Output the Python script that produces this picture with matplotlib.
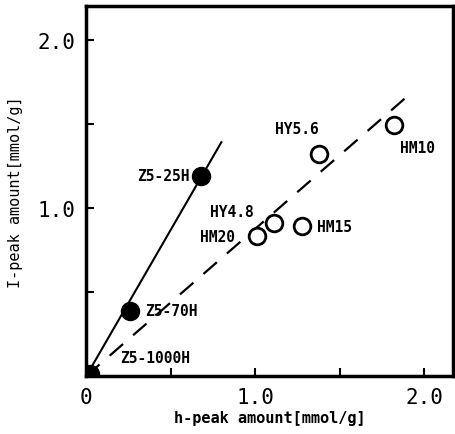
import numpy as np
import matplotlib.pyplot as plt

# Z5 series (filled)
z5_names = ['Z5-1000H', 'Z5-70H', 'Z5-25H']
z5_h = [0.02, 0.26, 0.68]
z5_i = [0.01, 0.39, 1.19]

# HY / HM series (open)
hy_names = ['HM20', 'HY4.8', 'HM15', 'HY5.6', 'HM10']
hy_h = [1.01, 1.11, 1.28, 1.38, 1.82]
hy_i = [0.83, 0.91, 0.89, 1.32, 1.49]

# fitted lines
solid_x = [0.0, 0.80]
solid_y = [0.0, 1.39]
dash_x = [0.0, 1.92]
dash_y = [0.0, 1.68]

label_pos = {
    'Z5-25H': (0.615, 1.19, 'right'),
    'Z5-70H': (0.35, 0.39, 'left'),
    'Z5-1000H': (0.20, 0.11, 'left'),
    'HY5.6': (1.25, 1.47, 'center'),
    'HM10': (1.96, 1.36, 'center'),
    'HY4.8': (0.86, 0.98, 'center'),
    'HM20': (0.78, 0.83, 'center'),
    'HM15': (1.47, 0.89, 'center'),
}

mono = 'DejaVu Sans Mono'

fig = plt.figure(figsize=(4.56, 4.35), dpi=100)
ax = fig.add_axes([0.189, 0.133, 0.804, 0.851])

ax.plot(solid_x, solid_y, color='black', lw=1.5)
ax.plot(dash_x, dash_y, color='black', lw=1.6, dashes=(8, 6))
ax.plot(z5_h, z5_i, 'o', color='black', ms=13, ls='none')
ax.plot(hy_h, hy_i, 'o', mfc='white', mec='black', mew=2, ms=12, ls='none')

for name, (x, y, ha) in label_pos.items():
    ax.text(x, y, name, ha=ha, va='center', fontsize=10.5, family=mono,
            fontweight='bold')

ax.set_xlim(0, 2.17)
ax.set_ylim(0, 2.2)
ax.set_xticks([0, 0.5, 1.0, 1.5, 2.0])
ax.set_xticklabels(['0', '', '1.0', '', '2.0'])
ax.set_yticks([0, 0.5, 1.0, 1.5, 2.0])
ax.set_yticklabels(['', '', '1.0', '', '2.0'])
ax.tick_params(direction='in', length=6, width=1.5, labelsize=15, pad=8)
for lab in ax.get_xticklabels() + ax.get_yticklabels():
    lab.set_family(mono)
for sp in ax.spines.values():
    sp.set_linewidth(2.5)

ax.set_xlabel('h-peak amount[mmol/g]', fontsize=11, family=mono,
              fontweight='bold', labelpad=2)
ax.set_ylabel('I-peak amount[mmol/g]', fontsize=11, family=mono, labelpad=10)

fig.savefig('out.png', dpi=100)
